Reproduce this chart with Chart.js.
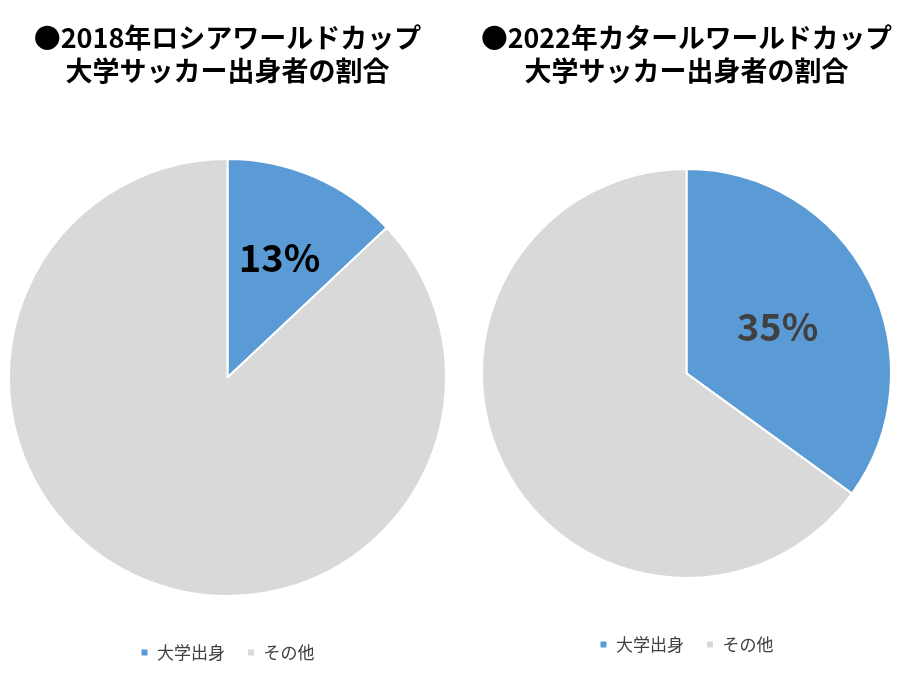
<!DOCTYPE html>
<html><head><meta charset="utf-8">
<script src="https://cdn.jsdelivr.net/npm/chart.js@4"></script>
<style>
body{margin:0;background:#fff;}
.wrap{display:flex;width:922px;height:691px;}
.box{position:relative;width:461px;height:691px;}
</style></head>
<body>
<div class="wrap">
<div class="box"><canvas id="c1"></canvas></div>
<div class="box"><canvas id="c2"></canvas></div>
</div>
<script>
const categories = ["大学出身", "その他"];
const values2018 = [13, 87];
const values2022 = [35, 65];
const titles2018 = ["●2018年ロシアワールドカップ", "大学サッカー出身者の割合"];
const titles2022 = ["●2022年カタールワールドカップ", "大学サッカー出身者の割合"];
const colors = ["#5b9bd5", "#d9d9d9"];
const font = "'Noto Sans CJK JP', 'Noto Sans', sans-serif";

const pctLabel = {
  id: "pctLabel",
  afterDatasetsDraw(chart, args, opts) {
    const arc = chart.getDatasetMeta(0).data[0];
    const mid = (arc.startAngle + arc.endAngle) / 2;
    const r = arc.outerRadius * opts.pos;
    const ctx = chart.ctx;
    ctx.save();
    ctx.font = "bold 38px " + font;
    ctx.fillStyle = opts.color;
    ctx.textAlign = "center";
    ctx.textBaseline = "middle";
    ctx.fillText(chart.data.datasets[0].data[0] + "%", arc.x + Math.cos(mid) * r, arc.y + Math.sin(mid) * r);
    ctx.restore();
  }
};

function makePie(id, values, title, labelColor, pos, pad) {
  new Chart(document.getElementById(id), {
    type: "pie",
    data: {
      labels: categories,
      datasets: [{ data: values, backgroundColor: colors, borderColor: "#fff", borderWidth: 2 }]
    },
    options: {
      responsive: true,
      maintainAspectRatio: false,
      animation: false,
      layout: { padding: pad },
      plugins: {
        title: { display: true, text: title, color: "#000", font: { size: 27, family: font }, padding: { top: 22, bottom: 46 }, align: "center" },
        legend: {
          position: "bottom",
          labels: { usePointStyle: true, pointStyle: "rect", boxWidth: 8, boxHeight: 8, color: "#404040", font: { size: 17, family: font }, padding: 22 }
        },
        tooltip: { enabled: false },
        pctLabel: { color: labelColor, pos: pos }
      }
    },
    plugins: [pctLabel]
  });
}

makePie("c1", values2018, titles2018, "#000", 0.6, { left: 8, right: 14, bottom: 20 });
makePie("c2", values2022, titles2022, "#404040", 0.5, { left: 20, right: 30, bottom: 28 });
</script>
</body></html>
